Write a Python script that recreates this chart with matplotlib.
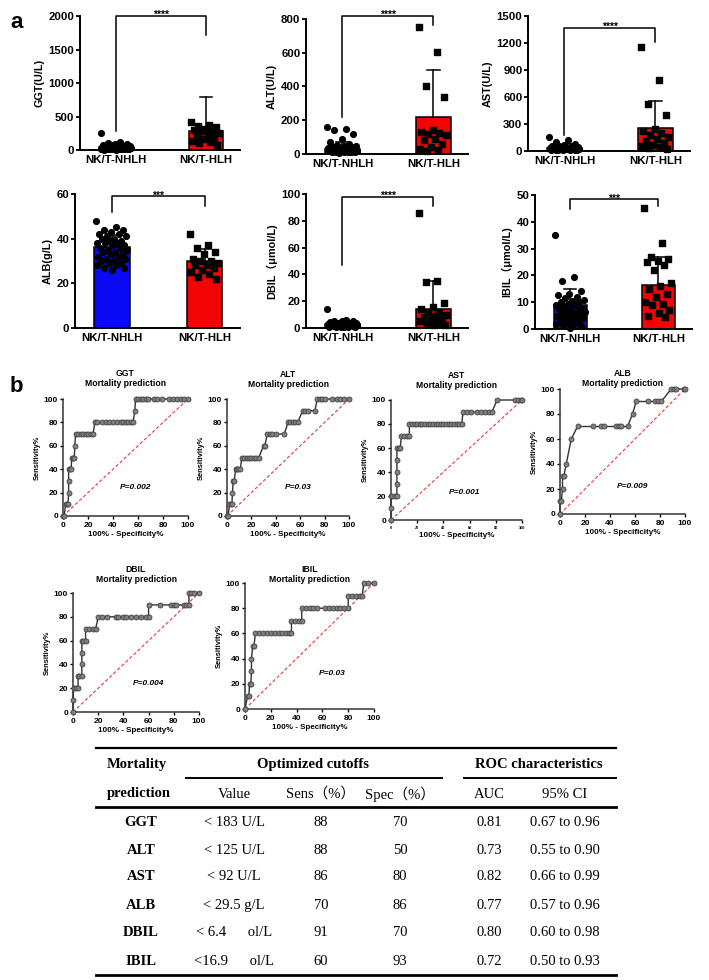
import matplotlib
matplotlib.use('Agg')
import matplotlib.pyplot as plt

W, H = 709, 980
plt.rcParams['font.family'] = ['Liberation Sans', 'Noto Sans CJK SC']
plt.rcParams['font.weight'] = 'bold'
plt.rcParams['axes.labelweight'] = 'bold'

groups = ['NK/T-NHLH', 'NK/T-HLH']

# ---- panel a: bar + scatter data ----
ggt_nhlh = [250, 120, 100, 95, 85, 80, 75, 70, 65, 60, 55, 50, 48, 45, 42, 40, 38, 35, 33, 30,
            28, 26, 25, 24, 22, 20, 19, 18, 17, 16, 15, 14, 13, 12, 11, 10, 9, 8, 7, 6]
ggt_hlh = [420, 380, 360, 340, 320, 300, 290, 280, 250, 230, 200, 180, 160, 140, 120, 100, 80]
ggt_mean = [50, 290]
ggt_top = [105, 785]

alt_nhlh = [160, 150, 140, 120, 90, 70, 60, 55, 50, 45, 42, 40, 38, 35, 33, 30, 28, 27, 25, 24,
            22, 20, 19, 18, 17, 16, 15, 14, 13, 12, 11, 10, 9, 8]
alt_hlh = [750, 605, 400, 340, 140, 130, 125, 120, 110, 90, 80, 60, 40, 30, 25, 20]
alt_mean = [30, 220]
alt_top = [70, 495]

ast_nhlh = [150, 120, 100, 80, 70, 60, 55, 50, 45, 40, 38, 35, 32, 30, 28, 26, 25, 24, 22, 20,
            19, 18, 17, 16, 15, 14, 13, 12, 10, 9]
ast_hlh = [1160, 790, 525, 400, 240, 220, 200, 180, 150, 130, 110, 90, 70, 50, 40, 30, 20]
ast_mean = [30, 250]
ast_top = [60, 550]

alb_nhlh = [48, 45, 44, 44, 43, 42, 42, 41, 41, 40, 40, 39, 39, 38, 38, 38, 37, 37, 36, 36,
            35, 35, 34, 34, 33, 33, 32, 32, 31, 31, 30, 30, 29, 29, 28, 28, 27, 27, 26]
alb_hlh = [42, 37, 36, 34, 33, 31, 30, 30, 29, 28, 28, 27, 26, 25, 24, 23, 22]
alb_mean = [36.2, 30]
alb_top = [41.5, 35.4]

dbil_nhlh = [14, 6, 5.5, 5, 5, 4.5, 4, 4, 4, 3.5, 3.5, 3, 3, 3, 3, 2.5, 2.5, 2.5, 2, 2,
             2, 2, 1.5, 1.5, 1.5, 1, 1, 1, 1, 0.8, 0.5]
dbil_hlh = [86, 35, 34, 19, 16, 14, 12, 11, 10, 9, 8, 7, 6, 5, 4, 3, 2.5, 2]
dbil_mean = [3, 14.5]
dbil_top = [5, 35]

ibil_nhlh = [35, 19.5, 18, 14, 13, 12.5, 12, 11.5, 11, 10.5, 10, 10, 9.5, 9, 9, 8.5, 8, 8, 7.5, 7,
             7, 6.5, 6, 6, 5.5, 5, 5, 4.5, 4, 4, 3.5, 3, 3, 2.5, 2, 2, 1.5, 1, 0.5]
ibil_hlh = [45, 32, 27, 26, 25.5, 25, 24, 22, 17, 16, 15, 13, 12, 10, 9.5, 9, 7, 6, 5, 4.5]
ibil_mean = [8.8, 16.5]
ibil_top = [15, 27]

# ---- panel b: ROC points (100% - specificity, sensitivity) ----
ggt_fx = [0, 1, 2, 3, 4, 4.5, 4.5, 4.5, 5.5, 6.5, 7, 8, 9, 9.5, 10, 12, 14, 16, 18, 20, 22, 24,
          25.5, 27, 31, 34, 37, 40, 43, 46, 48, 50, 52, 54, 56, 57.5, 58, 60, 62, 64, 66, 68,
          73, 75, 79, 85, 88, 91, 94, 97, 100]
ggt_fy = [0, 0, 10, 10, 10, 20, 30, 40, 40, 40, 50, 50, 50, 60, 70, 70, 70, 70, 70, 70, 70, 70,
          80, 80, 80, 80, 80, 80, 80, 80, 80, 80, 80, 80, 80, 90, 100, 100, 100, 100, 100, 100,
          100, 100, 100, 100, 100, 100, 100, 100, 100]

alt_fx = [0, 1, 2, 3, 4, 4.5, 5, 6, 7, 8, 9, 11, 12, 14, 16, 18, 20, 22, 24, 26, 30, 31, 33,
          35, 37, 40, 47, 50, 52, 54, 56, 58, 62, 64, 66, 72, 74, 76, 78, 80, 86, 90, 93, 96, 100]
alt_fy = [0, 0, 10, 10, 10, 20, 30, 30, 40, 40, 40, 40, 50, 50, 50, 50, 50, 50, 50, 50, 60, 60,
          70, 70, 70, 70, 70, 80, 80, 80, 80, 80, 90, 90, 90, 90, 100, 100, 100, 100, 100, 100,
          100, 100, 100]

ast_fx = [0, 0, 0, 1, 3, 4.5, 4.5, 4.5, 4.5, 4.5, 6, 7, 8, 10, 12, 14, 14, 16, 18, 20, 22, 24,
          26, 28, 30, 32, 34, 36, 38, 40, 42, 44, 46, 48, 50, 52, 54, 55, 58, 61, 66, 69, 72,
          75, 77, 81, 95, 97, 99, 100]
ast_fy = [0, 10, 20, 20, 20, 20, 30, 40, 50, 60, 60, 60, 70, 70, 70, 70, 80, 80, 80, 80, 80, 80,
          80, 80, 80, 80, 80, 80, 80, 80, 80, 80, 80, 80, 80, 80, 80, 90, 90, 90, 90, 90, 90,
          90, 90, 100, 100, 100, 100, 100]

alb_fx = [0, 0, 1, 2, 2, 3, 5, 9, 14, 26, 33, 35, 45, 47, 49, 54, 58, 61, 70, 76, 78, 81, 89,
          91, 93, 99, 100]
alb_fy = [0, 10, 10, 20, 30, 30, 40, 60, 70, 70, 70, 70, 70, 70, 70, 70, 80, 90, 90, 90, 90, 90,
          100, 100, 100, 100, 100]

dbil_fx = [0, 0, 0.5, 2, 4, 4, 5, 7, 7, 7, 7, 8, 10, 10, 13, 16, 18, 20, 23, 27, 34, 36, 40, 42,
           46, 50, 54, 58, 60, 60, 69, 78, 80, 82, 88, 90, 92, 92, 94, 96, 100]
dbil_fy = [0, 10, 20, 20, 20, 30, 30, 30, 40, 50, 60, 60, 60, 70, 70, 70, 70, 80, 80, 80, 80, 80,
           80, 80, 80, 80, 80, 80, 80, 90, 90, 90, 90, 90, 90, 90, 90, 100, 100, 100, 100]

ibil_fx = [0, 2, 3, 3.5, 4.5, 5, 5, 6, 7, 8, 11, 14, 17, 20, 23, 26, 29, 32, 34, 36, 36, 39, 42,
           44, 44, 47, 50, 53, 56, 62, 65, 68, 71, 74, 77, 80, 80, 83, 86, 89, 91, 92, 95, 100]
ibil_fy = [0, 10, 10, 20, 20, 30, 40, 50, 50, 60, 60, 60, 60, 60, 60, 60, 60, 60, 60, 60, 70, 70,
           70, 70, 80, 80, 80, 80, 80, 80, 80, 80, 80, 80, 80, 80, 90, 90, 90, 90, 90, 100, 100, 100]

roc_names = ['GGT', 'ALT', 'AST', 'ALB', 'DBIL', 'IBIL']
roc_p = ['0.002', '0.03', '0.001', '0.009', '0.004', '0.03']

# ---- table ----
tab_marker = ['GGT', 'ALT', 'AST', 'ALB', 'DBIL', 'IBIL']
tab_value = ['< 183 U/L', '< 125 U/L', '< 92 U/L', '< 29.5 g/L', '< 6.4      ol/L', '<16.9      ol/L']
tab_sens = ['88', '88', '86', '70', '91', '60']
tab_spec = ['70', '50', '80', '86', '70', '93']
tab_auc = ['0.81', '0.73', '0.82', '0.77', '0.80', '0.72']
tab_ci = ['0.67 to 0.96', '0.55 to 0.90', '0.66 to 0.99', '0.57 to 0.96', '0.60 to 0.98', '0.50 to 0.93']

fig = plt.figure(figsize=(W / 100, H / 100), dpi=100)


def add_ax(l, t, r, b):
    return fig.add_axes([l / W, 1 - b / H, (r - l) / W, (b - t) / H])


def ftext(x, y, s, **kw):
    fig.text(x / W, 1 - y / H, s, **kw)


def spread(n, width):
    # golden-ratio spread of points across the bar
    return [(((k * 0.618034) % 1) - 0.5) * width for k in range(n)]


def bar_panel(box, ylabel, ymax, step, mean, top, d0, d1, stars, bracket):
    ax = add_ax(*box)
    ax.bar([0, 1], mean, width=0.38, color=['#0a0af5', '#f20404'], edgecolor='black',
           linewidth=1.1, zorder=2)
    ax.scatter([0 + o for o in spread(len(d0), 0.34)], d0, s=17, marker='o', color='black',
               zorder=4, clip_on=False)
    ax.scatter([1 + o for o in spread(len(d1), 0.32)], d1, s=15, marker='s', color='black',
               zorder=4, clip_on=False)
    for i in range(2):
        ax.plot([i, i], [mean[i], top[i]], color='black', lw=1.1, zorder=3)
        ax.plot([i - 0.07, i + 0.07], [top[i], top[i]], color='black', lw=1.1, zorder=3)
    yl, yleft, yright = bracket
    ax.plot([0, 0, 1, 1], [yleft, yl, yl, yright], color='black', lw=1.1, clip_on=False)
    ax.text(0.5, yl + ymax * 0.005, stars, ha='center', va='center', fontsize=7.5)
    ax.set_xlim(-0.4, 1.38)
    ax.set_ylim(0, ymax)
    ax.set_yticks([step * k for k in range(int(round(ymax / step)) + 1)])
    ax.set_xticks([0, 1])
    ax.set_xticklabels(groups, fontsize=8.2)
    ax.tick_params(axis='x', length=0, pad=3.5)
    ax.tick_params(axis='y', labelsize=8.2, length=3, width=1.3, pad=1)
    for s in ['top', 'right']:
        ax.spines[s].set_visible(False)
    for s in ['left', 'bottom']:
        ax.spines[s].set_linewidth(1.4)
    ax.set_ylabel(ylabel, fontsize=7.8, labelpad=3)
    return ax


bar_panel((80, 16, 240, 150), 'GGT(U/L)', 2000, 500, ggt_mean, ggt_top, ggt_nhlh, ggt_hlh,
          '****', (2000, 280, 1720))
bar_panel((306, 19, 468, 154), 'ALT(U/L)', 800, 200, alt_mean, alt_top, alt_nhlh, alt_hlh,
          '****', (818, 220, 765))
bar_panel((528, 16, 690, 151), 'AST(U/L)', 1500, 300, ast_mean, ast_top, ast_nhlh, ast_hlh,
          '****', (1370, 175, 1210))
bar_panel((75, 194, 240, 328), 'ALB(g/L)', 60, 20, alb_mean, alb_top, alb_nhlh, alb_hlh,
          '***', (59, 52, 54.8))
bar_panel((306, 194, 468, 328), 'DBIL（μmol/L)', 100, 20, dbil_mean, dbil_top, dbil_nhlh, dbil_hlh,
          '****', (98, 47, 91))
bar_panel((535, 195, 692, 329), 'IBIL（μmol/L)', 50, 10, ibil_mean, ibil_top, ibil_nhlh, ibil_hlh,
          '***', (48.4, 44.7, 46))

ftext(10, 22, 'a', fontsize=16, ha='left', va='center')
ftext(10, 387, 'b', fontsize=16, ha='left', va='center')


def roc_panel(box, name, fx, fy, p, ptxt, title_y, tick_fs=6):
    l, t, r, b = box
    ax = add_ax(*box)
    ax.plot([0, 100], [0, 100], ls=(0, (3, 2)), color='#e23b3b', lw=0.8, zorder=1)
    ax.plot(fx, fy, color='#333333', lw=1.0, marker='o', ms=3.6, mfc='#808080', mec='#444444',
            mew=0.6, clip_on=False, zorder=3)
    ax.set_xlim(0, 100)
    ax.set_ylim(0, 100)
    ax.set_xticks(range(0, 101, 20))
    ax.set_yticks(range(0, 101, 20))
    ax.tick_params(axis='x', labelsize=tick_fs, length=2.5, width=1.0, pad=1.5)
    ax.tick_params(axis='y', labelsize=6, length=2.5, width=1.0, pad=1)
    for s in ['top', 'right']:
        ax.spines[s].set_visible(False)
    for s in ['left', 'bottom']:
        ax.spines[s].set_linewidth(1.1)
        ax.spines[s].set_color('#333333')
    ax.set_xlabel('100% - Specificity%', fontsize=5.8, labelpad=2)
    ax.set_ylabel('Sensitivity%', fontsize=5.4, labelpad=2)
    ax.text(ptxt[0], ptxt[1], 'P=' + p, style='italic', fontsize=6, ha='center', va='center')
    cx = (l + r) / 2
    ftext(cx, title_y, name, fontsize=6.2, ha='center', va='center')
    ftext(cx, title_y + 10, 'Mortality prediction', fontsize=6.2, ha='center', va='center')


roc_panel((63, 399, 188, 516), 'GGT', ggt_fx, ggt_fy, roc_p[0], (58, 24), 373)
roc_panel((227, 399, 349, 516), 'ALT', alt_fx, alt_fy, roc_p[1], (58, 24), 374)
roc_panel((391, 400, 522, 520), 'AST', ast_fx, ast_fy, roc_p[2], (56, 23), 375, tick_fs=2.8)
roc_panel((560, 389, 685, 514), 'ALB', alb_fx, alb_fy, roc_p[3], (58, 22), 373)
roc_panel((73, 593, 199, 712), 'DBIL', dbil_fx, dbil_fy, roc_p[4], (60, 24), 569)
roc_panel((245, 583, 374, 709), 'IBIL', ibil_fx, ibil_fy, roc_p[5], (68, 28), 570)

# ---- table drawn with figure lines and text ----
serif = ['Liberation Serif', 'Noto Sans CJK SC']
tfs = 10.5


def hline(x0, x1, y, lw):
    fig.add_artist(plt.Line2D([x0 / W, x1 / W], [1 - y / H, 1 - y / H], color='black', lw=lw))


hline(96, 616, 748, 1.6)
hline(186, 442, 778, 1.4)
hline(464, 616, 778, 1.4)
hline(96, 616, 807, 2.0)
hline(96, 616, 975, 2.0)

ftext(107, 764, 'Mortality', family=serif, fontsize=tfs, weight='bold', ha='left', va='center')
ftext(107, 793, 'prediction', family=serif, fontsize=tfs, weight='bold', ha='left', va='center')
ftext(313, 764, 'Optimized cutoffs', family=serif, fontsize=tfs, weight='bold', ha='center', va='center')
ftext(539, 764, 'ROC characteristics', family=serif, fontsize=tfs, weight='bold', ha='center', va='center')

col_x = [234, 321, 400, 489, 565]
heads = ['Value', 'Sens（%）', 'Spec（%）', 'AUC', '95% CI']
for x, h in zip(col_x, heads):
    ftext(x, 794, h, family=serif, fontsize=tfs, weight='normal', ha='center', va='center')

row_y = [822, 850, 877, 905, 932, 961]
for i, y in enumerate(row_y):
    ftext(141, y, tab_marker[i], family=serif, fontsize=tfs, weight='bold', ha='center', va='center')
    cells = [tab_value[i], tab_sens[i], tab_spec[i], tab_auc[i], tab_ci[i]]
    for x, c in zip(col_x, cells):
        ftext(x, y, c, family=serif, fontsize=tfs, weight='normal', ha='center', va='center')

fig.savefig('out.png', dpi=100)
